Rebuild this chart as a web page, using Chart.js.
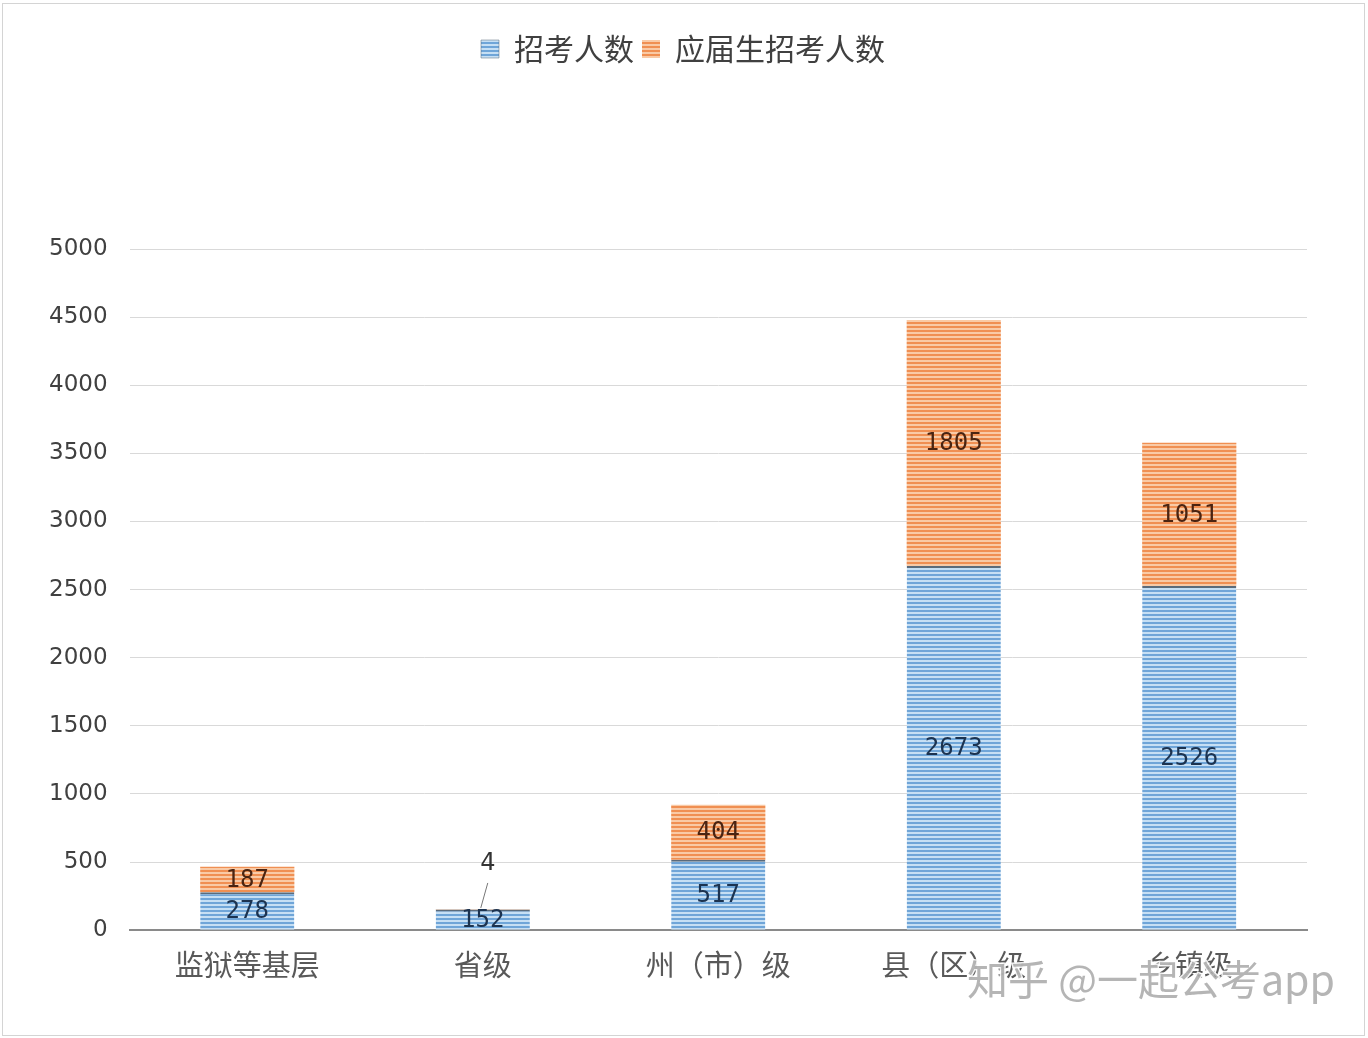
<!DOCTYPE html>
<html>
<head>
<meta charset="utf-8">
<script src="https://cdn.jsdelivr.net/npm/chart.js@4/dist/chart.umd.min.js"></script>
<style>
  body { margin: 0; background: #fff; }
  #wrap { position: absolute; left: 2px; top: 3px; width: 1363px; height: 1033px; border: 1px solid #d4d4d4; box-sizing: border-box; }
</style>
</head>
<body>
<div id="wrap"><canvas id="myChart"></canvas></div>
<script>
const categories = ['监狱等基层', '省级', '州（市）级', '县（区）级', '乡镇级'];
const total = [278, 152, 517, 2673, 2526];
const fresh = [187, 4, 404, 1805, 1051];
const seriesNames = ['招考人数', '应届生招考人数'];
const yTicks = [0, 500, 1000, 1500, 2000, 2500, 3000, 3500, 4000, 4500, 5000];

// striped fill like the original
function stripes(dark, light) {
    const c = document.createElement('canvas');
    c.width = 4; c.height = 4;
    const g = c.getContext('2d');
    g.fillStyle = light;
    g.fillRect(0, 0, 4, 4);
    g.fillStyle = dark;
    g.fillRect(0, 2, 4, 2);
    return g.createPattern(c, 'repeat');
}

const blueFill = stripes('#6fa5d8', '#c6dff4');
const orangeFill = stripes('#f08f52', '#f9caa6');

// big empty gap under the legend, and legend centred on the page
const legendGap = {
    id: 'legendGap',
    beforeInit(chart) {
        const fit = chart.legend.fit;
        chart.legend.fit = function () {
            fit.bind(chart.legend)();
            this.height += 175;
        };
    },
    afterLayout(chart) {
        chart.legend.left += 16;
        chart.legend.right += 16;
    }
};

const valueLabels = {
    id: 'valueLabels',
    afterDatasetsDraw(chart) {
        const ctx = chart.ctx;
        ctx.save();
        ctx.font = '24px "DejaVu Sans Mono"';
        ctx.textAlign = 'center';
        ctx.textBaseline = 'middle';
        chart.data.datasets.forEach((ds, i) => {
            const meta = chart.getDatasetMeta(i);
            meta.data.forEach((el, j) => {
                const h = Math.abs(el.base - el.y);
                const txt = String(ds.data[j]);
                ctx.fillStyle = i === 0 ? '#1c3350' : '#4a2412';
                if (h < 12) {
                    ctx.fillStyle = '#333';
                    ctx.font = '24px "DejaVu Sans"';
                    ctx.fillText(txt, el.x + 5, el.y - 45);
                    ctx.strokeStyle = '#777';
                    ctx.lineWidth = 1;
                    ctx.beginPath();
                    ctx.moveTo(el.x + 5, el.y - 26);
                    ctx.lineTo(el.x - 2, el.y - 1);
                    ctx.stroke();
                    ctx.font = '24px "DejaVu Sans Mono"';
                } else {
                    ctx.fillText(txt, el.x, (el.y + el.base) / 2 + 1);
                }
            });
        });
        ctx.restore();
    }
};

const watermark = {
    id: 'watermark',
    afterDraw(chart) {
        const ctx = chart.ctx;
        ctx.save();
        ctx.font = '41px "Noto Sans CJK SC"';
        ctx.textBaseline = 'alphabetic';
        ctx.lineWidth = 3;
        ctx.strokeStyle = 'rgba(255,255,255,0.9)';
        ctx.fillStyle = 'rgba(150,150,150,0.7)';
        ctx.strokeText('知乎 @一起公考app', 964, 991);
        ctx.fillText('知乎 @一起公考app', 964, 991);
        ctx.restore();
    }
};

const data = {
    labels: categories,
    datasets: [
        { label: seriesNames[0], data: total, backgroundColor: blueFill,
          borderColor: '#5b6b7b', borderWidth: { top: 2, left: 0, right: 0, bottom: 0 }, borderSkipped: false },
        { label: seriesNames[1], data: fresh, backgroundColor: orangeFill, borderWidth: 0 }
    ]
};

const options = {
    responsive: true,
    maintainAspectRatio: false,
    animation: false,
    layout: { padding: { left: 24, right: 57, top: 22, bottom: 36 } },
    datasets: { bar: { barPercentage: 0.8, categoryPercentage: 0.5 } },
    plugins: {
        legend: {
            position: 'top',
            labels: {
                boxWidth: 18,
                boxHeight: 18,
                padding: 8,
                color: '#404040',
                font: { family: '"Noto Sans CJK SC"', size: 30 }
            }
        },
        tooltip: { enabled: false }
    },
    scales: {
        x: {
            stacked: true,
            grid: { display: false, drawTicks: false },
            border: { display: true, color: '#8a8a8a', width: 2 },
            ticks: {
                color: '#595959',
                padding: 17,
                font: { family: '"Noto Sans CJK SC"', size: 29 }
            }
        },
        y: {
            stacked: true,
            min: 0,
            max: 5000,
            afterBuildTicks: axis => { axis.ticks = yTicks.map(v => ({ value: v })); },
            grid: { color: '#d9d9d9', lineWidth: 1, drawTicks: false },
            border: { display: false },
            ticks: {
                color: '#404040',
                padding: 22,
                font: { family: '"DejaVu Sans"', size: 23 },
                callback: v => String(v)
            }
        }
    }
};

new Chart(document.getElementById('myChart'), {
    type: 'bar',
    data: data,
    options: options,
    plugins: [legendGap, valueLabels, watermark]
});
</script>
</body>
</html>
